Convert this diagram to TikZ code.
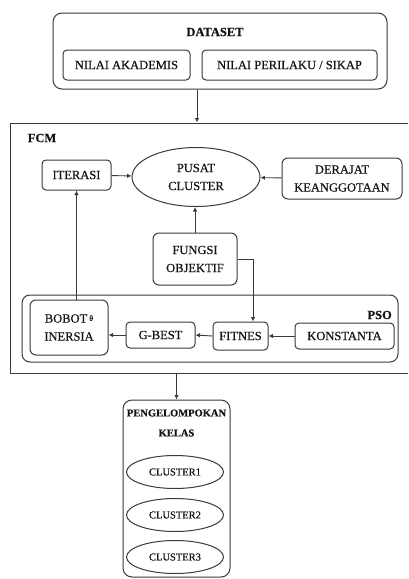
\documentclass[tikz,border=0pt]{standalone}
\usepackage{fontspec}
\setmainfont{Liberation Serif}[FakeBold=0.5]
\usetikzlibrary{shapes.geometric,arrows.meta,calc}
\definecolor{lc}{HTML}{3A3A3A}
\definecolor{tc}{HTML}{141414}
\tikzset{
  fbig/.style={font=\fontsize{12.5}{18}\selectfont},
  fsmall/.style={font=\fontsize{10.5}{20}\selectfont},
  bx/.style={draw=lc, line width=1pt, rounded corners=4pt, inner sep=0pt, align=center, text=tc, fbig},
  ell/.style={ellipse, draw=lc, line width=1pt, inner sep=0pt, align=center, text=tc},
  lbl/.style={inner sep=0pt, align=center, text=tc},
  arr/.style={draw=lc, line width=0.9pt, -{Latex[length=4.5pt,width=4.5pt]}}
}
\begin{document}
\begin{tikzpicture}[x=1pt,y=-1pt]
\useasboundingbox (0,0) rectangle (408,579);
\clip (0,0) rectangle (408,579);
\fill[white] (0,0) rectangle (408,579);
% DATASET
\node[bx, rounded corners=9pt, minimum width=334pt, minimum height=76pt] (datasetbox) at (220,51) {};
\node[lbl, font=\fontsize{12.5}{18}\selectfont\bfseries] (datasettitle) at (215,32) {DATASET};
\node[bx, minimum width=127pt, minimum height=30pt] (nilaiak) at (126.5,65) {NILAI AKADEMIS};
\node[bx, minimum width=175pt, minimum height=30pt] (nilaiper) at (289.5,65) {NILAI PERILAKU / SIKAP};
% FCM
\node[draw=lc, line width=1pt, inner sep=0pt, minimum width=402pt, minimum height=250pt] (fcm) at (211,248) {};
\node[lbl, font=\fontsize{12.5}{18}\selectfont\bfseries] (fcmtitle) at (42,138) {FCM};
\node[bx, minimum width=69pt, minimum height=30pt] (iter) at (76.5,175) {ITERASI};
\node[ell, fbig, minimum width=128pt, minimum height=59pt] (pusat) at (196,177) {PUSAT\\CLUSTER};
\node[bx, rounded corners=6pt, minimum width=120pt, minimum height=41pt] (derajat) at (342,178.5) {DERAJAT\\KEANGGOTAAN};
\node[bx, rounded corners=6pt, minimum width=84pt, minimum height=52pt] (fungsi) at (195,259) {FUNGSI\\OBJEKTIF};
% PSO
\node[draw=lc, line width=1pt, rounded corners=8pt, inner sep=0pt, minimum width=376pt, minimum height=67pt] (pso) at (210,328.5) {};
\node[lbl, font=\fontsize{12.5}{18}\selectfont\bfseries, anchor=east] (psotitle) at (392,315) {PSO};
\node[bx, rounded corners=6pt, minimum width=78pt, minimum height=55pt] (bobot) at (69,327.5) {BOBOT\,\raisebox{0.3ex}{\fontsize{8}{8}\selectfont θ}\\INERSIA};
\node[bx, minimum width=69pt, minimum height=26pt] (gbest) at (160.5,335) {G-BEST};
\node[bx, minimum width=55pt, minimum height=28pt] (fitnes) at (240.5,336) {FITNES};
\node[bx, minimum width=99pt, minimum height=26pt] (konst) at (344.5,336) {KONSTANTA};
% PENGELOMPOKAN
\node[bx, rounded corners=9pt, minimum width=107pt, minimum height=177pt] (kelas) at (176.5,488.5) {};
\node[lbl, font=\fontsize{10.5}{20}\selectfont\bfseries] (kelastitle) at (176.5,423) {PENGELOMPOKAN\\KELAS};
\node[ell, fsmall, minimum width=97pt, minimum height=33pt] (cl1) at (175,472) {CLUSTER1};
\node[ell, fsmall, minimum width=97pt, minimum height=33pt] (cl2) at (175,515) {CLUSTER2};
\node[ell, fsmall, minimum width=97pt, minimum height=33pt] (cl3) at (175,557) {CLUSTER3};
% connectors
\draw[arr] ([xshift=-23pt]datasetbox.south) -- ([xshift=-23pt]datasetbox.south |- fcm.north);
\draw[arr] (iter) -- (pusat);
\draw[arr] (derajat) -- (pusat);
\draw[arr] (fungsi.north) -- (fungsi.north |- pusat.south);
\draw[arr] (fungsi.east) -| ([xshift=12.5pt]fitnes.north);
\draw[arr] (konst.west) -- (fitnes.east);
\draw[arr] (fitnes.west) -- (gbest.east);
\draw[arr] (gbest.west) -- (gbest.west -| bobot.east);
\draw[arr] (iter.south |- bobot.north) -- (iter.south);
\draw[arr] (fcm.south -| kelas.north) -- (kelas.north);
\end{tikzpicture}
\end{document}
